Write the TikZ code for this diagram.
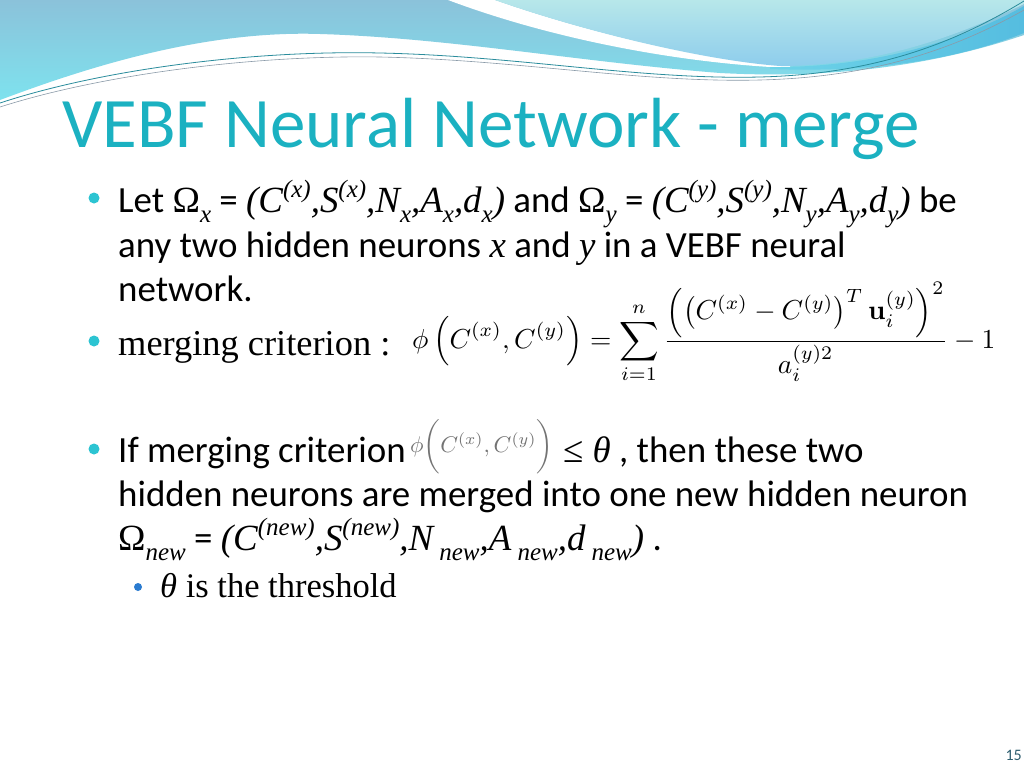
\documentclass[tikz,border=0pt]{standalone}
\usepackage[no-math]{fontspec}
\setmainfont{Carlito}
\newfontfamily\tms{Liberation Serif}
\definecolor{titlec}{HTML}{1BB1C1}
\definecolor{bulc}{HTML}{2CC4D2}
\definecolor{subbulc}{HTML}{2A7BD0}
\definecolor{bandtop}{HTML}{8BC2DA}
\definecolor{bandbot}{HTML}{7EE2EE}
\definecolor{lighttop}{HTML}{B7E7EA}
\definecolor{lightbot}{HTML}{8ECDEC}
\definecolor{midblue}{HTML}{55BDE0}
\definecolor{linec}{HTML}{2A8C9C}
\definecolor{lineg}{HTML}{8A9AA8}
\definecolor{pagec}{HTML}{2F5F70}
\newcommand\tsub[1]{\raisebox{-0.28em}{\tms\fontsize{25}{25}\selectfont\itshape #1}}
\newcommand\tsup[1]{\raisebox{0.40em}{\tms\fontsize{25}{25}\selectfont\itshape #1}}
\newcommand\bodyf{\fontsize{36.9}{44.5}\selectfont}
\tikzset{
  txt/.style={anchor=base west, inner sep=0pt, text=black, font=\bodyf},
  tmstxt/.style={anchor=base west, inner sep=0pt, text=black, font={\tms\fontsize{36.4}{44}\selectfont}},
  bul/.style={circle, fill=bulc, inner sep=0pt, minimum size=11pt},
  subbul/.style={circle, fill=subbulc, inner sep=0pt, minimum size=8pt},
}
\begin{document}
\begin{tikzpicture}[x=1pt,y=-1pt]
\useasboundingbox (0,0) rectangle (1024,768);
\fill[white] (0,0) rectangle (1024,768);
% main band
\shade[top color=bandtop, bottom color=bandbot]
  (0,0) -- (1024,0) -- (1024,35)
  .. controls (950,60) and (850,80) .. (720,73)
  .. controls (580,62) and (450,38) .. (320,34)
  .. controls (200,30) and (80,70) .. (0,100) -- cycle;
% white stripe
\fill[white] (448,0) .. controls (560,42) and (690,64) .. (790,68)
  -- (790,66) .. controls (700,60) and (580,30) .. (495,0) -- cycle;
% light region
\shade[top color=lighttop, bottom color=lightbot]
  (495,0) -- (1024,0) -- (1024,4)
  .. controls (950,40) and (870,66) .. (780,66)
  .. controls (700,60) and (580,30) .. (495,0) -- cycle;
% medium blue band at right
\shade[left color=bandbot!60!midblue, right color=midblue]
  (770,67) .. controls (870,68) and (960,42) .. (1024,6)
  -- (1024,33) .. controls (960,58) and (880,73) .. (770,69) -- cycle;
% thin lines
\draw[linec, line width=0.8pt] (0,103) .. controls (100,70) and (250,50) .. (380,53)
  .. controls (520,56) and (640,80) .. (760,77) .. controls (880,74) and (960,40) .. (1024,1);
\draw[lineg, line width=0.6pt] (0,107) .. controls (100,75) and (250,55) .. (380,57)
  .. controls (520,60) and (640,83) .. (760,80) .. controls (880,77) and (960,46) .. (1024,10);
% title
\node[anchor=base west, inner sep=0pt, text=titlec, font=\fontsize{71}{84}\selectfont] (title) at (62,147) {VEBF Neural Network - merge};
% bullet 1
\node[bul] (b1) at (94,198) {};
\node[txt] (l1) at (118,212) {Let {\tms Ω}\tsub{x} = {\tms\itshape (C\tsup{(x)},S\tsup{(x)},N\tsub{x},A\tsub{x},d\tsub{x})} and {\tms Ω}\tsub{y} = {\tms\itshape (C\tsup{(y)},S\tsup{(y)},N\tsub{y},A\tsub{y},d\tsub{y})} be};
\node[txt] (l2) at (118,257) {any two hidden neurons {\tms\itshape x} and {\tms\itshape y} in a VEBF neural};
\node[txt] (l3) at (118,301) {network.};
% bullet 2
\node[bul] (b2) at (94,341) {};
\node[tmstxt] (l4) at (118,355) {merging criterion :};
\node[anchor=west, inner sep=0pt] (f1) at (412,333) {\resizebox{583pt}{!}{$\displaystyle \phi\left(C^{(x)},C^{(y)}\right)=\sum_{i=1}^{n}\frac{\left(\left(C^{(x)}-C^{(y)}\right)^{T}\mathbf{u}_i^{(y)}\right)^{2}}{a_i^{(y)2}}-1$}};
% bullet 3
\node[bul] (b3) at (94,449) {};
\node[txt] (l5) at (118,462) {If merging criterion};
\node[anchor=west, inner sep=0pt, text=black!55] (f2) at (410,447) {\resizebox{143pt}{!}{$\phi\biggl(C^{(x)},C^{(y)}\biggr)$}};
\node[txt] (l6) at (563,462) {{\tms ≤ \itshape θ} , then these two};
\node[txt] (l7) at (118,506) {hidden neurons are merged into one new hidden neuron};
\node[txt] (l8) at (118,550) {{\tms Ω}\tsub{new} = {\tms\itshape (C\tsup{(new)},S\tsup{(new)},N\,\tsub{new},A\,\tsub{new},d\,\tsub{new})} .};
% sub bullet
\node[subbul] (s1) at (138,587) {};
\node[tmstxt, font={\tms\fontsize{34.5}{42}\selectfont}] (l9) at (160,597) {{\itshape θ} is the threshold};
% page number
\node[anchor=base east, inner sep=0pt, text=pagec, font=\fontsize{16}{18}\selectfont] (pg) at (1022,760) {15};
\end{tikzpicture}
\end{document}
